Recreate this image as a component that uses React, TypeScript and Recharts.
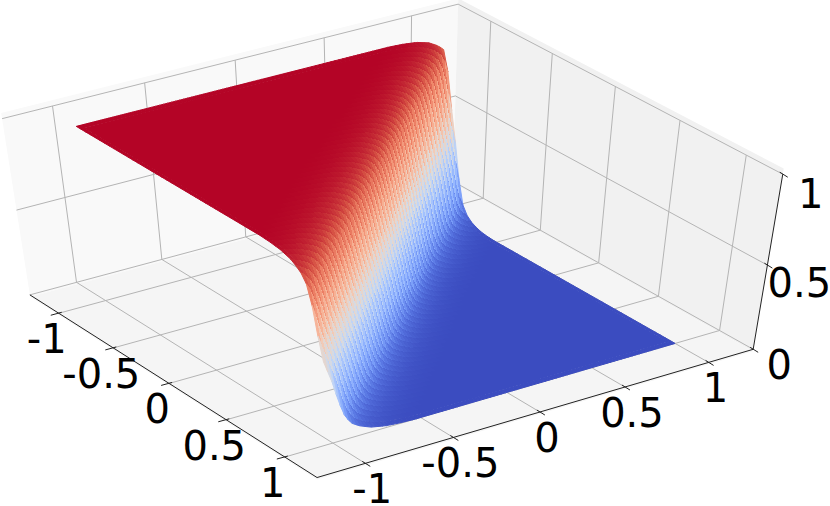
import React from "react";
import { ScatterChart, Scatter, XAxis, YAxis } from "recharts";

// ---------- values ----------
const xTicks = [-1, -0.5, 0, 0.5, 1];
const yTicks = [-1, -0.5, 0, 0.5, 1];
const zTicks = [0, 0.5, 1];
const xTickLabels = ["-1", "-0.5", "0", "0.5", "1"];
const yTickLabels = ["-1", "-0.5", "0", "0.5", "1"];
const zTickLabels = ["0", "0.5", "1"];
// where the step sits (x) for a given y, and how wide it is there
const stepRowY = [-1.04, -0.5, 0, 0.5, 1.04];
const stepCentreX = [1.0, 0.5, 0.03, -0.45, -0.93];
const stepWidth = [0.8, 0.78, 0.72, 0.66, 0.6];
// cross-section of the step: height against distance from the step centre
const profileOffset = [-9, -0.6, -0.5, -0.4, -0.3, -0.22, -0.17, -0.13, -0.09, -0.05, 0, 0.05, 0.09, 0.13, 0.17, 0.22, 0.3, 0.4, 0.5, 0.6, 9];
const profileHeight = [1, 1, 0.996, 0.988, 0.97, 0.94, 0.91, 0.86, 0.76, 0.63, 0.5, 0.37, 0.24, 0.14, 0.09, 0.06, 0.03, 0.012, 0.004, 0, 0];
const coolwarm = ["#3b4cc0", "#5977e3", "#7b9ff9", "#9ebeff", "#c0d4f5", "#dddcdc", "#f2cbb7", "#f7ac8e", "#ee8468", "#d65244", "#b40426"];

// ---------- camera calibration (axis box corners on the page) ----------
const WIDTH = 830;
const HEIGHT = 506;
const AXIS_LIM = 1.27;
const calibration: number[][] = [
  [0, 0, 0, 30, 296],
  [1, 0, 0, 317, 477],
  [1, 1, 0, 753, 350],
  [0, 1, 0, 453, 180],
  [0, 0, 1, 2, 118],
  [0, 1, 1, 458, 5],
  [1, 1, 1, 783, 174],
];

function solve(A: number[][], b: number[]) {
  const n = b.length;
  const M = A.map((r, i) => [...r, b[i]]);
  for (let c = 0; c < n; c++) {
    let p = c;
    for (let r = c + 1; r < n; r++) if (Math.abs(M[r][c]) > Math.abs(M[p][c])) p = r;
    [M[c], M[p]] = [M[p], M[c]];
    for (let r = 0; r < n; r++) {
      if (r === c) continue;
      const f = M[r][c] / M[c][c];
      for (let k = c; k <= n; k++) M[r][k] -= f * M[c][k];
    }
  }
  return M.map((r, i) => r[n] / r[i]);
}

function fitCamera() {
  const rows: number[][] = [];
  const rhs: number[] = [];
  for (const [X, Y, Z, u, v] of calibration) {
    rows.push([X, Y, Z, 1, 0, 0, 0, 0, -u * X, -u * Y, -u * Z]);
    rhs.push(u);
    rows.push([0, 0, 0, 0, X, Y, Z, 1, -v * X, -v * Y, -v * Z]);
    rhs.push(v);
  }
  const N = 11;
  const AtA = Array.from({ length: N }, (_, i) =>
    Array.from({ length: N }, (_, j) => rows.reduce((s, r) => s + r[i] * r[j], 0))
  );
  const Atb = Array.from({ length: N }, (_, i) => rows.reduce((s, r, k) => s + r[i] * rhs[k], 0));
  return solve(AtA, Atb);
}
const cam = fitCamera();

function proj(X: number, Y: number, Z: number): [number, number] {
  const w = cam[8] * X + cam[9] * Y + cam[10] * Z + 1;
  return [(cam[0] * X + cam[1] * Y + cam[2] * Z + cam[3]) / w, (cam[4] * X + cam[5] * Y + cam[6] * Z + cam[7]) / w];
}
const norm = (v: number) => (v + AXIS_LIM) / (2 * AXIS_LIM);
const data3 = (x: number, y: number, z: number) => proj(norm(x), norm(y), z);

function lookup(xs: number[], ys: number[], v: number) {
  if (v <= xs[0]) return ys[0];
  for (let i = 1; i < xs.length; i++) {
    if (v <= xs[i]) return ys[i - 1] + ((ys[i] - ys[i - 1]) * (v - xs[i - 1])) / (xs[i] - xs[i - 1]);
  }
  return ys[ys.length - 1];
}
function hexRgb(h: string) {
  return [1, 3, 5].map((i) => parseInt(h.slice(i, i + 2), 16));
}
function colourOf(z: number) {
  const t = Math.min(0.9999, Math.max(0, z)) * (coolwarm.length - 1);
  const i = Math.floor(t);
  const a = hexRgb(coolwarm[i]);
  const b = hexRgb(coolwarm[i + 1]);
  const c = a.map((v, k) => Math.round(v + (b[k] - v) * (t - i)));
  return `rgb(${c[0]},${c[1]},${c[2]})`;
}

type Poly = { sx: number; sy: number; pts: [number, number][]; fill: string; stroke: string; sw: number; crisp?: boolean };
const poly = (pts: [number, number][], fill: string, stroke = "none", sw = 0, crisp = false): Poly => ({
  sx: pts[0][0],
  sy: pts[0][1],
  pts,
  fill,
  stroke,
  sw,
  crisp,
});

// ---------- box ----------
const GRID = "#b4b4b4";
const Z_LO = -0.012;
const Z_HI = 1.03;
const panes: Poly[] = [
  poly([proj(0, 0, Z_LO), proj(0, 1, Z_LO), proj(0, 1, Z_HI), proj(0, 0, Z_HI)], "#f9f9f9"),
  poly([proj(0, 1, Z_LO), proj(1, 1, Z_LO), proj(1, 1, Z_HI), proj(0, 1, Z_HI)], "#f1f1f1"),
  poly([proj(0, 0, Z_LO), proj(1, 0, Z_LO), proj(1, 1, Z_LO), proj(0, 1, Z_LO)], "#f5f5f5"),
];
const gridLines: Poly[] = [
  ...xTicks.flatMap((t) => [
    poly([proj(norm(t), 0, 0), proj(norm(t), 1, 0)], "none", GRID, 1),
    poly([proj(norm(t), 1, 0), proj(norm(t), 1, 1)], "none", GRID, 1),
  ]),
  ...yTicks.flatMap((t) => [
    poly([proj(0, norm(t), 0), proj(1, norm(t), 0)], "none", GRID, 1),
    poly([proj(0, norm(t), 0), proj(0, norm(t), 1)], "none", GRID, 1),
  ]),
  ...zTicks.flatMap((t) => [
    poly([proj(0, 0, t), proj(0, 1, t)], "none", GRID, 1),
    poly([proj(0, 1, t), proj(1, 1, t)], "none", GRID, 1),
  ]),
];

const shift = (p: [number, number], dx: number, dy: number): [number, number] => [p[0] + dx, p[1] + dy];
const axisLines: Poly[] = [
  poly([proj(0, 0, 0), proj(1, 0, 0)], "none", "#222", 1),
  poly([proj(1, 0, 0), proj(1, 1, 0)], "none", "#222", 1),
  poly([proj(1, 1, 0), proj(1, 1, 1)], "none", "#222", 1),
  ...xTicks.map((t) => {
    const p = proj(norm(t), 0, 0);
    return poly([shift(p, -8, 2), shift(p, 3, -1)], "none", "#222", 1);
  }),
  ...yTicks.map((t) => {
    const p = proj(1, norm(t), 0);
    return poly([shift(p, -3, -2), shift(p, 5, 3)], "none", "#222", 1);
  }),
  ...zTicks.map((t) => {
    const p = proj(1, 1, t);
    return poly([shift(p, -3, -2), shift(p, 5, 3)], "none", "#222", 1);
  }),
];

// ---------- surface ----------
const CELLS_X = 50;
const CELLS_Y = 95;
const Y_LO = -1.04;
const Y_HI = 1.0;
const rowX = Array.from({ length: CELLS_X + 1 }, (_, i) => -1 + (2 * i) / CELLS_X);
const rowY = Array.from({ length: CELLS_Y + 1 }, (_, i) => Y_LO + ((Y_HI - Y_LO) * i) / CELLS_Y);
const heightAt = (x: number, y: number) =>
  lookup(profileOffset, profileHeight, (x - lookup(stepRowY, stepCentreX, y)) / lookup(stepRowY, stepWidth, y));
const interior: Poly[] = [];
const border: Poly[] = [];
for (let i = 0; i < CELLS_X; i++) {
  for (let j = CELLS_Y - 1; j >= 0; j--) {
    const x0 = rowX[i];
    const x1 = rowX[i + 1];
    const y0 = rowY[j];
    const y1 = rowY[j + 1];
    const z00 = heightAt(x0, y0);
    const z10 = heightAt(x1, y0);
    const z11 = heightAt(x1, y1);
    const z01 = heightAt(x0, y1);
    const col = colourOf((z00 + z10 + z11 + z01) / 4);
    const pts: [number, number][] = [data3(x0, y0, z00), data3(x1, y0, z10), data3(x1, y1, z11), data3(x0, y1, z01)];
    if (i === 0 || i === CELLS_X - 1 || j === 0 || j === CELLS_Y - 1) border.push(poly(pts, col, col, 1));
    else interior.push(poly(pts, col, col, 0, true));
  }
}

// ---------- labels ----------
const zLabelDx = [26, 32, 28];
const zLabelDy = [16, 18, 20];
type Lab = { sx: number; sy: number; text: string };
const labels: Lab[] = [
  ...xTicks.map((t, i) => {
    const p = proj(norm(t), 0, 0);
    return { sx: p[0] - 12, sy: p[1] + 26, text: xTickLabels[i] };
  }),
  ...yTicks.map((t, i) => {
    const p = proj(1, norm(t), 0);
    return { sx: p[0] + 7, sy: p[1] + 26, text: yTickLabels[i] };
  }),
  ...zTicks.map((t, i) => {
    const p = proj(1, 1, t);
    return { sx: p[0] + zLabelDx[i], sy: p[1] + zLabelDy[i], text: zTickLabels[i] };
  }),
];

const PolyShape = (props: any) => {
  const { cx, cy, payload } = props;
  const d = payload.pts
    .map((p: [number, number], i: number) => `${i ? "L" : "M"}${(cx + p[0] - payload.sx).toFixed(2)} ${(cy + p[1] - payload.sy).toFixed(2)}`)
    .join("");
  return (
    <path
      d={payload.pts.length > 2 ? d + "Z" : d}
      fill={payload.fill}
      stroke={payload.sw ? payload.stroke : "none"}
      strokeWidth={payload.sw}
      shapeRendering={payload.crisp ? "crispEdges" : "auto"}
    />
  );
};
const LabelShape = (props: any) => (
  <text
    x={props.cx}
    y={props.cy}
    textAnchor="middle"
    dominantBaseline="central"
    fontFamily="'DejaVu Sans'"
    fontSize={40}
    fill="#000"
  >
    {props.payload.text}
  </text>
);

export default function App() {
  return (
    <div style={{ position: "absolute", left: 0, top: 0, width: WIDTH, height: HEIGHT, background: "#fff" }}>
      <ScatterChart width={WIDTH} height={HEIGHT} margin={{ top: 0, right: 0, bottom: 0, left: 0 }}>
        <XAxis type="number" dataKey="sx" domain={[0, WIDTH]} hide allowDataOverflow />
        <YAxis type="number" dataKey="sy" domain={[0, HEIGHT]} reversed hide allowDataOverflow />
        <Scatter data={panes} shape={PolyShape} isAnimationActive={false} />
        <Scatter data={gridLines} shape={PolyShape} isAnimationActive={false} />
        <Scatter data={axisLines} shape={PolyShape} isAnimationActive={false} />
        <Scatter data={border} shape={PolyShape} isAnimationActive={false} />
        <Scatter data={interior} shape={PolyShape} isAnimationActive={false} />
        <Scatter data={labels} shape={LabelShape} isAnimationActive={false} />
      </ScatterChart>
    </div>
  );
}
